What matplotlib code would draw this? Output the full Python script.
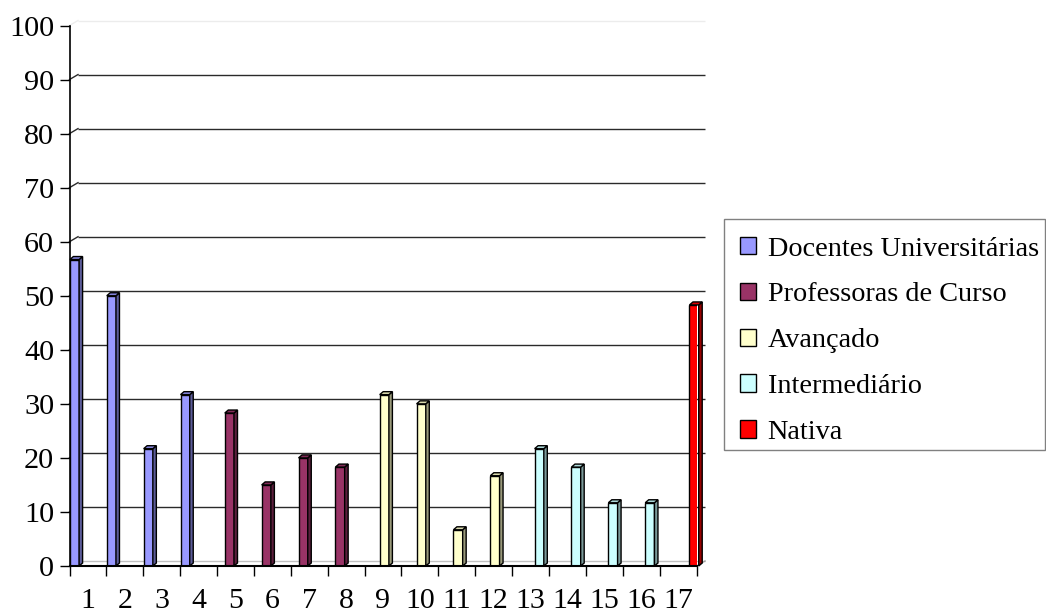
import matplotlib
matplotlib.use("Agg")
import matplotlib.pyplot as plt
from matplotlib.patches import Polygon, Patch, Rectangle
from matplotlib.colors import to_rgb

# ---- data -------------------------------------------------------------
categories = [str(i) for i in range(1, 18)]
values = [56.7, 50.0, 21.7, 31.7, 28.3, 15.0, 20.0, 18.3,
          31.7, 30.0, 6.7, 16.7, 21.7, 18.3, 11.7, 11.7, 48.3]
# index of the group each column belongs to
group_of = [0, 0, 0, 0, 1, 1, 1, 1, 2, 2, 2, 2, 3, 3, 3, 3, 4]
group_names = ["Docentes Universitárias", "Professoras de Curso",
               "Avançado", "Intermediário", "Nativa"]
group_colors = ["#9999FF", "#993366", "#FFFFCC", "#CCFFFF", "#FF0000"]
y_ticks = list(range(0, 101, 10))

# ---- figure -----------------------------------------------------------
W_PX, H_PX = 1046, 614
fig = plt.figure(figsize=(W_PX / 100, H_PX / 100), dpi=100)
plt.rcParams["font.family"] = ["Liberation Serif", "DejaVu Serif"]

left_px, right_px = 69.5, 696.5
bottom_px, top_px = 566.0, 25.5
ax = fig.add_axes([left_px / W_PX, 1 - bottom_px / H_PX,
                   (right_px - left_px) / W_PX, (bottom_px - top_px) / H_PX])
n = len(categories)
ax.set_xlim(0.5, n + 0.5)
ax.set_ylim(0, 100)

px_x = (right_px - left_px) / n          # pixels per category
px_y = (bottom_px - top_px) / 100.0      # pixels per unit

# depth of the chart walls and of the columns (pixels -> data units)
wall_dx, wall_dy = 8.5 / px_x, 5.0 / px_y
bar_dx, bar_dy = 3.5 / px_x, 3.0 / px_y

# back wall gridlines with the short connectors to the value axis
x0, x1 = 0.5, n + 0.5
for v in y_ticks:
    if v == 0:
        col = "#c0c0c0"
    elif v == 100:
        col = "#ececec"
    else:
        col = "#2a2a2a"
    ax.plot([x0 + wall_dx, x1 + wall_dx], [v + wall_dy] * 2, color=col,
            lw=1.0, clip_on=False, zorder=1, solid_capstyle="butt")
    if v > 0:
        ax.plot([x0, x0 + wall_dx], [v, v + wall_dy], color=col, lw=1.0,
                clip_on=False, zorder=1)
ax.plot([x1, x1 + wall_dx], [0, wall_dy], color="#a0a0a0", lw=1.0,
        clip_on=False, zorder=1)

# columns with their side and top faces
bar_w = 0.25
for i, (v, g) in enumerate(zip(values, group_of)):
    base = to_rgb(group_colors[g])
    side = tuple(c * 0.6 for c in base)
    topc = tuple(c * 0.85 for c in base)
    left = (i + 1) - 0.5 + 0.01 + 0.2 * g
    ax.bar(left, v, width=bar_w, align="edge", color=base,
           edgecolor="black", lw=1.0, zorder=3)
    r = left + bar_w
    ax.add_patch(Polygon([(r, 0), (r + bar_dx, bar_dy),
                          (r + bar_dx, v + bar_dy), (r, v)],
                         closed=True, facecolor=side, edgecolor="black",
                         lw=1.0, zorder=3, clip_on=False))
    ax.add_patch(Polygon([(left, v), (r, v), (r + bar_dx, v + bar_dy),
                          (left + bar_dx, v + bar_dy)],
                         closed=True, facecolor=topc, edgecolor="black",
                         lw=1.0, zorder=3, clip_on=False))

# axes styling
for s in ("top", "right"):
    ax.spines[s].set_visible(False)
ax.spines["left"].set_linewidth(1.2)
ax.spines["bottom"].set_linewidth(1.5)
ax.spines["left"].set_zorder(4)
ax.spines["bottom"].set_zorder(4)

ax.set_yticks(y_ticks)
ax.set_yticklabels([str(t) for t in y_ticks])
ax.tick_params(axis="y", direction="out", length=7, width=1, pad=4,
               labelsize=21.8)

ax.set_xticks([k + 0.5 for k in range(0, n + 1)])
ax.set_xticklabels([])
ax.set_xticks(list(range(1, n + 1)), minor=True)
ax.set_xticklabels(categories, minor=True)
ax.tick_params(axis="x", which="major", direction="out", length=7, width=1)
ax.tick_params(axis="x", which="minor", length=0, pad=16, labelsize=21.5)

# legend box
fig.add_artist(Rectangle((724 / W_PX, 1 - 450 / H_PX),
                         (1045 - 724) / W_PX, (450 - 219) / H_PX,
                         transform=fig.transFigure, facecolor="white",
                         edgecolor="#808080", lw=1.0, zorder=2))
handles = [Patch(facecolor=c, edgecolor="black", lw=1.0) for c in group_colors]
leg = fig.legend(handles, group_names, loc="upper left",
                 bbox_to_anchor=(740 / W_PX, 1 - 236.5 / H_PX),
                 frameon=False, fontsize=20.3,
                 handlelength=0.58, handleheight=0.57, handletextpad=0.4,
                 labelspacing=0.74, borderpad=0, borderaxespad=0)
leg.set_zorder(3)

fig.savefig("out.png", dpi=100)
